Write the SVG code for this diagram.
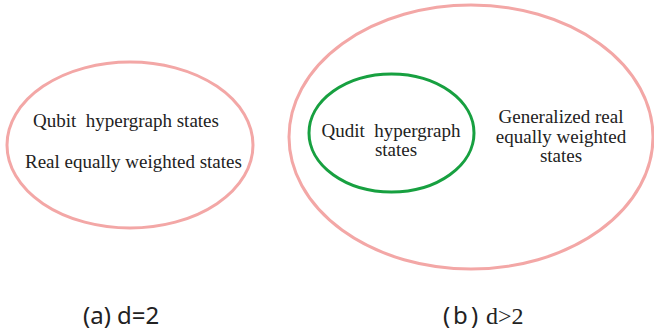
<svg xmlns="http://www.w3.org/2000/svg" width="654" height="335" viewBox="0 0 654 335">
<style>
.pink{fill:none;stroke:#f3a7a6;stroke-width:3}
.green{fill:none;stroke:#17a040;stroke-width:3}
</style>
<rect width="654" height="335" fill="#fff"/>
<g id="left" font-family="Liberation Serif" font-size="19" fill="#222">
<ellipse class="pink" cx="130" cy="145" rx="123" ry="83"/>
<text x="33" y="127" xml:space="preserve">Qubit  hypergraph states</text>
<text x="25" y="168">Real equally weighted states</text>
</g>
<g id="right" font-family="Liberation Serif" font-size="19" fill="#222" text-anchor="middle">
<ellipse class="pink" cx="471" cy="137" rx="182" ry="132"/>
<text x="561" y="123">Generalized real</text>
<text x="561" y="143">equally weighted</text>
<text x="561" y="162">states</text>
</g>
<g id="inner" font-family="Liberation Serif" font-size="19" fill="#222" text-anchor="middle">
<ellipse class="green" cx="391.5" cy="133" rx="82.5" ry="59"/>
<text x="391" y="137" xml:space="preserve">Qudit  hypergraph</text>
<text x="396" y="156">states</text>
</g>
<g id="captions" fill="#222">
<text x="83" y="324" font-family="Noto Sans, DejaVu Sans, sans-serif" font-size="24" xml:space="preserve">(a) d=2</text>
<text x="443 453 471" y="324" font-family="Noto Sans, DejaVu Sans, sans-serif" font-size="24">(b)</text>
<text x="486" y="324" font-family="Liberation Serif" font-size="24">d&gt;2</text>
</g>
</svg>
